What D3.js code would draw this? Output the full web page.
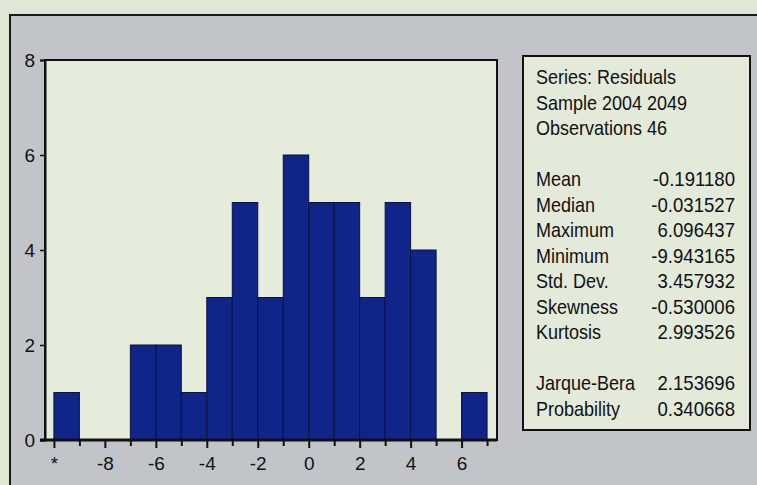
<!DOCTYPE html>
<html>
<head>
<meta charset="utf-8">
<script src="https://cdn.jsdelivr.net/npm/d3@7"></script>
<style>
  html, body { margin: 0; padding: 0; background: #dfe8d4; }
  svg { display: block; }
  text { font-family: "Liberation Sans", Arial, sans-serif; }
</style>
</head>
<body>
<script>
// ---- data ----
const binStarts = [-10, -9, -8, -7, -6, -5, -4, -3, -2, -1, 0, 1, 2, 3, 4, 5, 6];
const counts    = [  1,  0,  0,  2,  2,  1,  3,  5,  3,  6, 5, 5, 3, 5, 4, 0, 1];
const binWidth = 1;
const xTickValues = [-10, -8, -6, -4, -2, 0, 2, 4, 6];
const xTickLabels = ["*", "-8", "-6", "-4", "-2", "0", "2", "4", "6"];
const xMinorTicks = [-9, -7, -5, -3, -1, 1, 3, 5, 7];
const yTicks = [0, 2, 4, 6, 8];
const headerLines = ["Series: Residuals", "Sample 2004 2049", "Observations 46"];
const statNames  = ["Mean", "Median", "Maximum", "Minimum", "Std. Dev.", "Skewness", "Kurtosis"];
const statValues = ["-0.191180", "-0.031527", "6.096437", "-9.943165", "3.457932", "-0.530006", "2.993526"];
const testNames  = ["Jarque-Bera", "Probability"];
const testValues = ["2.153696", "0.340668"];

// ---- layout ----
const W = 757, H = 485;
const svg = d3.select("body").append("svg").attr("width", W).attr("height", H);

// gray panel
svg.append("rect").attr("x", 10).attr("y", 15).attr("width", W).attr("height", H)
  .attr("fill", "#c1c5ca").attr("stroke", "#1a1a1a").attr("stroke-width", 2);

const plot = { left: 45, right: 497, top: 60, bottom: 440 };
const x = d3.scaleLinear().domain([-10.35, 7.39]).range([plot.left, plot.right]);
const y = d3.scaleLinear().domain([0, 8]).range([plot.bottom, plot.top]);

// plot background
svg.append("rect").attr("x", plot.left).attr("y", plot.top)
  .attr("width", plot.right - plot.left).attr("height", plot.bottom - plot.top)
  .attr("fill", "#e6ecdb").attr("stroke", "#111").attr("stroke-width", 2);

// bars
svg.append("g").selectAll("rect").data(binStarts.map((b, i) => ({ b, c: counts[i] })).filter(d => d.c > 0))
  .join("rect")
  .attr("x", d => x(d.b))
  .attr("width", d => x(d.b + binWidth) - x(d.b))
  .attr("y", d => y(d.c))
  .attr("height", d => y(0) - y(d.c))
  .attr("fill", "#0f258a")
  .attr("stroke", "#0a133d")
  .attr("stroke-width", 1);

// x axis
const xAxis = d3.axisBottom(x).tickValues(xTickValues)
  .tickFormat((d, i) => xTickLabels[i]).tickSize(8).tickPadding(9);
const gx = svg.append("g").attr("transform", `translate(0,${plot.bottom})`).call(xAxis);
gx.select(".domain").remove();
gx.selectAll("text").attr("font-size", 19).attr("fill", "#111");
gx.selectAll("line").attr("stroke", "#111").attr("stroke-width", 2);
svg.append("g").attr("transform", `translate(0,${plot.bottom})`)
  .call(d3.axisBottom(x).tickValues(xMinorTicks).tickFormat("").tickSize(6))
  .call(g => g.select(".domain").remove())
  .selectAll("line").attr("stroke", "#111").attr("stroke-width", 2);
svg.append("line").attr("x1", plot.left - 5).attr("x2", plot.right)
  .attr("y1", plot.bottom).attr("y2", plot.bottom)
  .attr("stroke", "#111").attr("stroke-width", 3);

// y axis
const gy = svg.append("g").attr("transform", `translate(${plot.left},0)`)
  .call(d3.axisLeft(y).tickValues(yTicks).tickSize(5).tickPadding(5));
gy.select(".domain").attr("stroke", "#111").attr("stroke-width", 2);
gy.selectAll("text").attr("font-size", 19).attr("fill", "#111");
gy.selectAll("line").attr("stroke", "#111").attr("stroke-width", 1.5);

// stats box
const box = { x: 523, y: 56, w: 227, h: 374 };
svg.append("rect").attr("x", box.x).attr("y", box.y).attr("width", box.w).attr("height", box.h)
  .attr("fill", "#e3eada").attr("stroke", "#111").attr("stroke-width", 2);

const lineH = 25.5, firstY = 77, labelX = 536, valueX = 735;
const rows = [];
headerLines.forEach(t => rows.push({ l: t, v: "" }));
rows.push(null);
statNames.forEach((t, i) => rows.push({ l: t, v: statValues[i] }));
rows.push(null);
testNames.forEach((t, i) => rows.push({ l: t, v: testValues[i] }));

const tg = svg.append("g").attr("font-size", 20).attr("fill", "#111");
rows.forEach((r, i) => {
  if (!r) return;
  const cy = firstY + i * lineH;
  tg.append("text").attr("transform", `translate(${labelX},${cy}) scale(0.9,1)`)
    .attr("dy", "0.35em").text(r.l);
  if (r.v) tg.append("text").attr("transform", `translate(${valueX},${cy}) scale(0.93,1)`)
    .attr("dy", "0.35em").attr("text-anchor", "end").text(r.v);
});
</script>
</body>
</html>
